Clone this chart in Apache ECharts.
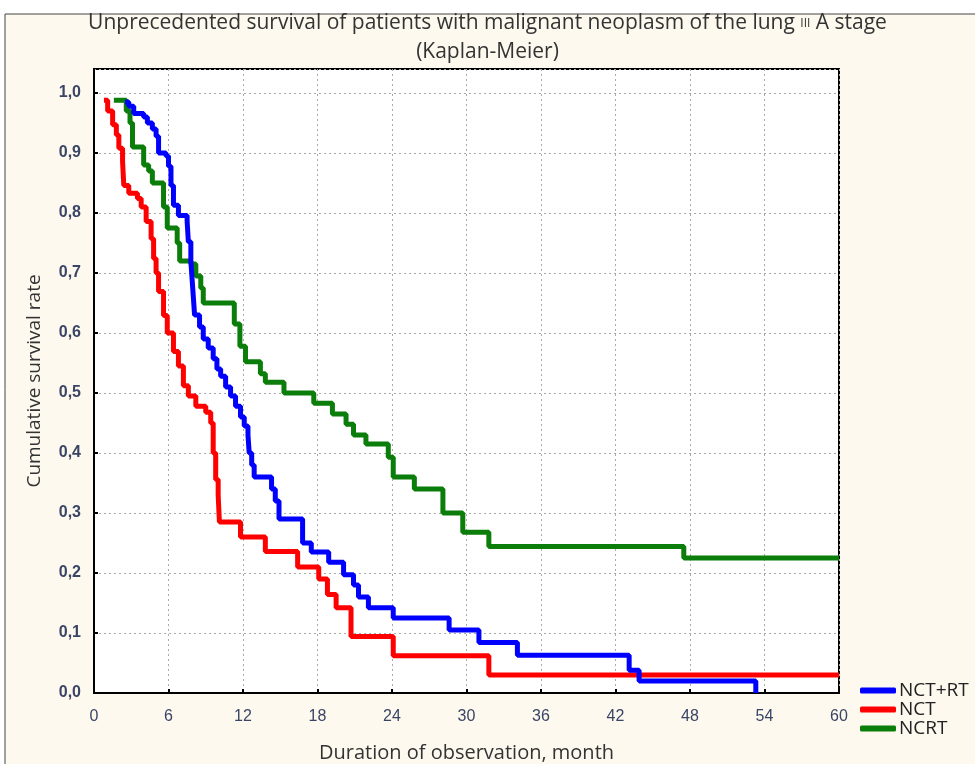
<!DOCTYPE html>
<html>
<head>
<meta charset="utf-8">
<script src="https://cdn.jsdelivr.net/npm/echarts@6/dist/echarts.min.js"></script>
<style>
  html, body { margin: 0; padding: 0; background: #fff; }
  #main { width: 975px; height: 764px; }
</style>
</head>
<body>
<div id="main"></div>
<script>
// Kaplan-Meier steps (month, survival after that month)
var nctRtTime = [2.5, 2.8, 3.2, 4.0, 4.3, 4.7, 5.0, 5.2, 5.8, 6.0, 6.2, 6.4, 6.8, 7.5, 7.6, 7.8, 7.9, 8.0, 8.1, 8.5,
    8.8, 9.2, 9.6, 9.9, 10.2, 10.6, 11.0, 11.4, 11.8, 12.1, 12.4, 12.5, 12.7, 12.9, 14.3, 14.6, 14.9, 16.8, 17.5, 18.9,
    20.1, 20.9, 21.3, 22.1, 24.1, 28.6, 31.0, 34.1, 43.1, 43.9, 53.3];
var nctRtSurv = [0.985, 0.978, 0.966, 0.96, 0.95, 0.94, 0.928, 0.90, 0.895, 0.878, 0.846, 0.813, 0.796, 0.786, 0.752, 0.72, 0.69, 0.66, 0.63, 0.61,
    0.59, 0.575, 0.557, 0.54, 0.528, 0.51, 0.495, 0.478, 0.46, 0.445, 0.43, 0.40, 0.38, 0.36, 0.34, 0.32, 0.29, 0.25, 0.235, 0.218,
    0.197, 0.18, 0.16, 0.142, 0.125, 0.105, 0.084, 0.063, 0.038, 0.02, 0];

var nctTime = [0.8, 1.1, 1.5, 1.8, 2.0, 2.3, 2.4, 2.8, 3.5, 3.8, 4.2, 4.6, 4.8, 5.0, 5.2, 5.6, 5.9, 6.4, 6.8, 7.2,
    7.6, 8.2, 9.0, 9.4, 9.6, 9.8, 10.0, 10.1, 11.8, 13.8, 16.4, 18.1, 18.8, 19.5, 20.7, 24.1, 31.8, 60];
var nctSurv = [0.988, 0.97, 0.947, 0.93, 0.908, 0.886, 0.846, 0.833, 0.824, 0.81, 0.786, 0.757, 0.724, 0.70, 0.669, 0.629, 0.60, 0.569, 0.545, 0.512,
    0.495, 0.478, 0.468, 0.45, 0.40, 0.356, 0.33, 0.285, 0.26, 0.236, 0.21, 0.19, 0.164, 0.142, 0.094, 0.062, 0.030, 0.030];

var ncrtTime = [1.6, 2.6, 2.9, 3.1, 4.0, 4.4, 4.7, 5.6, 5.9, 6.7, 6.9, 7.8, 8.2, 8.6, 8.8, 11.3, 11.75, 12.2, 13.4, 13.8,
    15.3, 17.7, 19.2, 20.3, 20.9, 21.9, 23.7, 24.1, 25.8, 28.1, 29.7, 31.8, 47.5, 60];
var ncrtSurv = [0.988, 0.97, 0.95, 0.91, 0.88, 0.87, 0.85, 0.81, 0.775, 0.75, 0.72, 0.715, 0.695, 0.675, 0.65, 0.615, 0.578, 0.552, 0.532, 0.518,
    0.50, 0.483, 0.465, 0.448, 0.43, 0.415, 0.393, 0.36, 0.34, 0.30, 0.268, 0.244, 0.225, 0.225];

var groupNames = ['NCT+RT', 'NCT', 'NCRT'];
var groupColors = ['#0000ff', '#ff0000', '#0a7d0a'];

function pairs(t, s) {
    var out = [];
    for (var i = 0; i < t.length; i++) out.push([t[i], s[i]]);
    return out;
}

var labelColor = '#3a4566';
var textFont = '"Open Sans", sans-serif';
var chart = echarts.init(document.getElementById('main'));
var option = {
    backgroundColor: '#ffffff',
    animation: false,
    graphic: [{
        type: 'rect',
        z: -10,
        shape: { x: 5, y: 14, width: 1000, height: 800 },
        style: { fill: '#fdf9ee', stroke: '#444', lineWidth: 1 }
    }],
    title: {
        text: 'Unprecedented survival of patients with malignant neoplasm of the lung {s|III} A stage\n(Kaplan-Meier)',
        left: 'center',
        top: 4,
        textStyle: {
            fontFamily: textFont,
            fontSize: 21,
            fontWeight: 'normal',
            color: '#333',
            lineHeight: 29,
            rich: { s: { fontSize: 12, color: '#333', fontFamily: textFont } }
        }
    },
    legend: {
        orient: 'vertical',
        left: 855,
        top: 676,
        itemGap: 0,
        itemWidth: 36,
        itemHeight: 6,
        icon: 'roundRect',
        textStyle: { fontSize: 19, color: '#222', fontFamily: textFont, padding: [0, 0, 0, -2] },
        data: groupNames
    },
    grid: {
        left: 94,
        right: 136,
        top: 69,
        bottom: 71,
        outerBoundsMode: 'none',
        show: true,
        backgroundColor: '#ffffff',
        borderColor: '#000',
        borderWidth: 2
    },
    xAxis: {
        type: 'value',
        min: 0,
        max: 60,
        interval: 6,
        name: 'Duration of observation, month',
        nameLocation: 'middle',
        nameGap: 50,
        nameTextStyle: { fontSize: 20, color: '#333', fontFamily: textFont },
        axisLine: { lineStyle: { color: '#000', width: 2 } },
        axisTick: { inside: true, length: 4, lineStyle: { color: '#000', width: 2 } },
        axisLabel: { margin: 16, fontSize: 16, color: labelColor, fontFamily: '"Liberation Sans Narrow", "Liberation Sans", sans-serif' },
        splitLine: { show: true, lineStyle: { type: [2, 3], color: '#aaa', width: 1 } }
    },
    yAxis: {
        type: 'value',
        min: 0,
        max: 1.04,
        interval: 0.1,
        name: 'Cumulative survival rate',
        nameLocation: 'middle',
        nameGap: 50,
        nameTextStyle: { fontSize: 19, color: '#333', fontFamily: textFont },
        axisLine: { lineStyle: { color: '#000', width: 2 } },
        axisTick: { inside: true, length: 4, lineStyle: { color: '#000', width: 2 } },
        axisLabel: {
            margin: 13,
            fontSize: 16,
            fontWeight: 'bold',
            color: labelColor,
            showMaxLabel: false,
            fontFamily: '"Liberation Sans", sans-serif',
            formatter: function (v) { return v.toFixed(1).replace('.', ','); }
        },
        splitLine: { show: true, lineStyle: { type: [2, 3], color: '#aaa', width: 1 } }
    },
    series: [
        { name: groupNames[0], data: pairs(nctRtTime, nctRtSurv) },
        { name: groupNames[1], data: pairs(nctTime, nctSurv) },
        { name: groupNames[2], data: pairs(ncrtTime, ncrtSurv) }
    ].map(function (s, i) {
        return Object.assign({
            type: 'line',
            step: 'end',
            showSymbol: false,
            symbol: 'none',
            z: 10 - i,
            color: groupColors[i],
            lineStyle: { width: 5, color: groupColors[i] }
        }, s);
    })
};
chart.setOption(option);
</script>
</body>
</html>
